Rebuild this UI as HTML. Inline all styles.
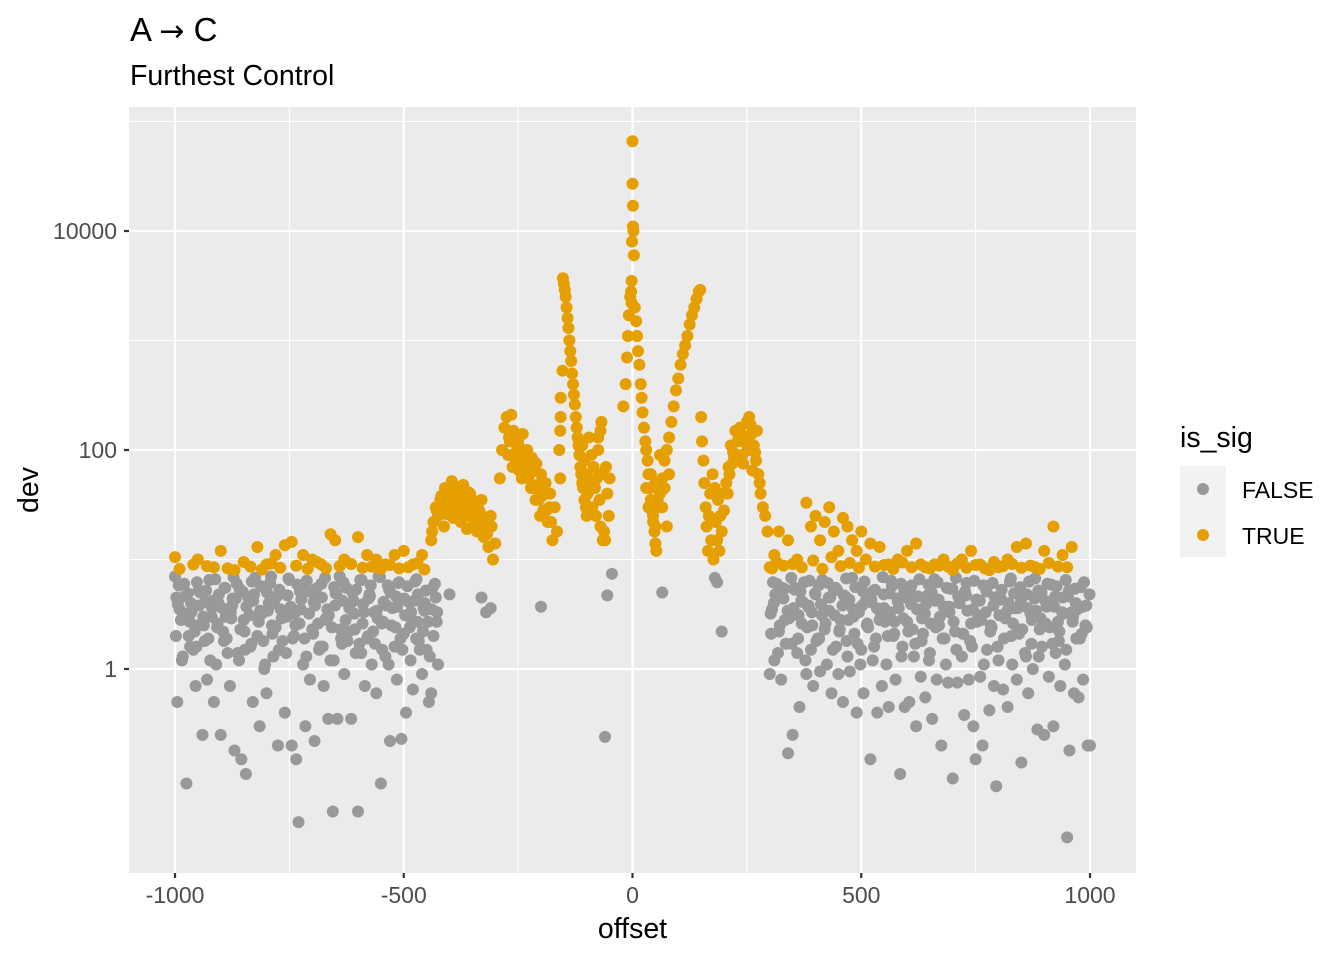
<!DOCTYPE html>
<html><head><meta charset="utf-8">
<style>
body{margin:0;background:#fff;}
svg{display:block;font-family:"Liberation Sans",Arial,sans-serif;}
</style></head>
<body>
<svg id="chart" width="1344" height="960" viewBox="0 0 1344 960" xmlns="http://www.w3.org/2000/svg">
<rect x="0" y="0" width="1344" height="960" fill="#fff"/>
<text x="130" y="41" font-size="33" fill="#000">A <tspan font-family="DejaVu Sans" font-size="30">→</tspan> C</text>
<text x="130" y="85" font-size="28.5" fill="#000">Furthest Control</text>
<rect x="129" y="107" width="1007" height="766" fill="#EBEBEB"/>
<g id="grid"></g>
<g id="pts"></g>
<g id="axes"></g>
<text x="632.5" y="938" font-size="28.5" text-anchor="middle" fill="#000">offset</text>
<text transform="translate(38,490) rotate(-90)" font-size="28.5" text-anchor="middle" fill="#000">dev</text>
<g>
<text x="1180" y="447" font-size="28.5" fill="#000">is_sig</text>
<rect x="1180" y="466" width="46" height="91" fill="#F2F2F2"/>
<circle cx="1203" cy="489" r="6" fill="#999999"/>
<circle cx="1203" cy="535" r="6" fill="#E69F00"/>
<text x="1242" y="498" font-size="23" fill="#000">FALSE</text>
<text x="1242" y="544" font-size="23" fill="#000">TRUE</text>
</g>
</svg>
<script>
const xTicks=[-1000,-500,0,500,1000];
const xTickLabels=["-1000","-500","0","500","1000"];
const xMinor=[-750,-250,250,750];
const yTicks=[1,100,10000];
const yTickLabels=["1","100","10000"];
const yMinor=[0.01,10,1000,100000];

const offFalse=[-1000,-995,-990,-985,-980,-975,-970,-965,-960,-955,
-950,-945,-940,-935,-930,-925,-920,-915,-910,-905,
-900,-895,-890,-885,-880,-875,-870,-865,-860,-855,
-850,-845,-840,-835,-830,-825,-820,-815,-810,-805,
-800,-795,-790,-785,-780,-775,-770,-765,-760,-755,
-750,-745,-740,-735,-730,-725,-720,-715,-710,-705,
-700,-695,-690,-685,-680,-675,-670,-665,-660,-655,
-650,-645,-640,-635,-630,-625,-620,-615,-610,-605,
-600,-595,-590,-585,-580,-575,-570,-565,-560,-555,
-550,-545,-540,-535,-530,-525,-520,-515,-510,-505,
-500,-495,-490,-485,-480,-475,-470,-465,-460,-455,
-450,-445,-440,-435,-430,-425,
-997,-987,-977,-967,-957,-947,-937,-927,-917,-907,
-897,-887,-877,-867,-857,-847,-837,-827,-817,-807,
-797,-787,-777,-767,-757,-747,-737,-727,-717,-707,
-697,-687,-677,-667,-657,-647,-637,-627,-617,-607,
-597,-587,-577,-567,-557,-547,-537,-527,-517,-507,
-497,-487,-477,-467,-457,-447,-437,-427,
-992,-972,-952,-932,-912,-892,-872,-852,-832,-812,
-792,-772,-752,-732,-712,-692,-672,-652,-632,-612,
-592,-572,-552,-532,-512,-492,-472,-452,-432,
-998,-983,-968,-953,-938,-923,-908,-893,-878,-863,
-848,-833,-818,-803,-788,-773,-758,-743,-728,-713,
-698,-683,-668,-653,-638,-623,-608,-593,-578,-563,
-548,-533,-518,-503,-488,-473,-458,-443,-428,
-994,-979,-964,-949,-934,-919,-904,-889,-874,-859,
-844,-829,-814,-799,-784,-769,-754,-739,-724,-709,
-694,-679,-664,-649,-634,-619,-604,-589,-574,-559,
-544,-529,-514,-499,-484,-469,-454,-439,
300,305,310,315,320,325,330,335,340,345,
350,355,360,365,370,375,380,385,390,395,
400,405,410,415,420,425,430,435,440,445,
450,455,460,465,470,475,480,485,490,495,
500,505,510,515,520,525,530,535,540,545,
550,555,560,565,570,575,580,585,590,595,
600,605,610,615,620,625,630,635,640,645,
650,655,660,665,670,675,680,685,690,695,
700,705,710,715,720,725,730,735,740,745,
750,755,760,765,770,775,780,785,790,795,
800,805,810,815,820,825,830,835,840,845,
850,855,860,865,870,875,880,885,890,895,
900,905,910,915,920,925,930,935,940,945,
950,955,960,965,970,975,980,985,990,995,1000,
302,312,322,332,342,352,362,372,382,392,
402,412,422,432,442,452,462,472,482,492,
502,512,522,532,542,552,562,572,582,592,
602,612,622,632,642,652,662,672,682,692,
702,712,722,732,742,752,762,772,782,792,
802,812,822,832,842,852,862,872,882,892,
902,912,922,932,942,952,962,972,982,992,
307,327,347,367,387,407,427,447,467,487,
507,527,547,567,587,607,627,647,667,687,
707,727,747,767,787,807,827,847,867,887,
907,927,947,967,987,
303,318,333,348,363,378,393,408,423,438,
453,468,483,498,513,528,543,558,573,588,
603,618,633,648,663,678,693,708,723,738,
753,768,783,798,813,828,843,858,873,888,
903,918,933,948,963,978,993,
309,324,339,354,369,384,399,414,429,444,
459,474,489,504,519,534,549,564,579,594,
609,624,639,654,669,684,699,714,729,744,
759,774,789,804,819,834,849,864,879,894,
909,924,939,954,969,984,999,
-400,-330,-320,-310,-200,-60,-55,-45,65,180,185,195];
const devFalse=[7,0.5,3.5,1.2,6,0.09,2,4,1.5,0.7,
2.5,5,0.25,1.8,0.8,6.5,3,0.5,1.1,4,
0.25,2.2,5.5,1.4,0.7,3.8,0.18,6,1.2,0.15,
2.8,0.11,4.5,1.6,0.5,6.8,2,0.3,3.2,1,
0.6,4,7,1.3,2.4,0.2,5,1.8,0.4,3,
6.5,0.2,2,0.15,0.04,3.5,1.1,0.3,5.2,0.8,
2.3,0.22,4.5,1.5,6,0.7,2.9,0.35,1.2,0.05,
3.8,0.35,7,1.7,0.9,5.5,2.2,0.35,4.2,1.4,
0.05,6.5,2.6,0.7,1.9,4.8,1.1,3.3,0.6,7,
0.09,2.7,1.3,5.8,0.22,3.6,1.6,0.8,6.2,0.23,
2.1,0.4,4.1,1.2,0.65,6.3,2.7,1.5,0.9,3.4,
1.5,0.5,0.6,2,4.5,1.1,
4.5,2.8,3.2,1.6,2.2,3.8,2.5,1.9,4.2,2.6,
3.6,1.9,2.9,4.4,2.3,1.5,3.1,4.8,2.7,1.8,
3.4,2.1,4.6,2.9,1.4,3.7,2.5,5.1,1.9,3.2,
4.1,2.6,1.6,3.5,2.4,4.9,1.9,2.8,3.9,2.3,
1.7,3.3,4.4,2.2,2.9,1.5,3.8,2.5,4.6,1.9,
3.1,2.4,4.2,1.8,3.6,2.7,5.5,3.3,
5.8,4.9,6.2,5.2,6.6,5.5,6.9,5.1,6.3,5.7,
6.1,5.3,6.7,5.9,6.4,5.4,6.8,5.6,6.2,5.0,
6.5,5.8,6.9,5.3,6.1,5.7,6.6,5.2,6.0,
2.0,1.3,2.7,1.6,3.0,1.2,2.4,1.8,3.3,1.4,
2.2,1.7,2.9,1.1,2.5,1.5,3.1,1.9,2.6,1.3,
2.1,1.6,2.8,1.2,2.3,1.8,3.2,1.4,2.0,1.7,
2.6,1.1,2.4,1.5,3.0,1.9,2.2,1.3,2.7,
3.9,4.6,3.3,5.2,4.1,3.6,4.8,3.0,4.4,5.4,
3.7,4.2,3.4,5.0,4.0,3.5,4.7,3.2,4.3,5.1,
3.8,4.5,3.1,4.9,4.2,3.6,5.3,3.9,4.6,3.4,
4.1,5.0,3.7,4.4,3.3,4.8,4.0,3.5,
0.9,3.5,1.2,6,2.2,0.8,4.4,1.7,0.17,3,
0.25,5.5,1.4,0.45,2.6,6.2,0.9,3.8,1.5,0.7,
4.8,1.9,0.95,6.5,2.3,1.1,3.4,0.6,5.2,1.6,
0.9,2.8,0.5,4.6,1.3,0.95,6.8,2.1,0.4,3.3,
1.5,0.6,4.2,2.4,0.15,1.2,5.3,0.4,2.8,0.7,
3.6,1.1,0.45,6.4,2,0.8,4.1,0.11,1.6,0.45,
2.7,0.5,5.8,1.3,0.3,3.5,0.85,2.1,0.55,4.7,
1.4,0.35,6.6,0.8,2.5,0.2,3.7,1.1,0.75,5.4,
0.1,2.2,0.75,4,1.3,0.38,6.1,0.8,2.6,0.3,
0.15,3.1,0.85,0.2,5.7,1.5,0.42,2.4,0.7,0.085,
1.2,4.3,0.65,2.9,0.45,6.3,1.1,3.6,0.8,2.1,
0.14,4.9,1.3,0.6,3.2,1,6.7,0.28,2.3,1.6,
0.25,3.7,0.85,5.9,0.3,1.4,2.7,0.7,4.5,1.1,
0.029,0.18,3.3,0.6,1.9,0.55,5.6,0.8,2.5,0.2,0.2,
3.2,4.8,2.5,5.4,2.9,3.6,1.9,4.1,2.4,3.3,
1.8,3.9,2.6,4.5,3.1,2.2,4.7,2.8,3.5,1.7,
3.8,2.5,4.3,1.9,3.3,2.7,4.9,2.1,3.6,2.9,
4.4,2.3,3.5,1.8,3.9,2.6,4.2,3,1.9,3.7,
2.7,4.6,2.1,3.4,1.6,4.3,2.8,3.3,2.2,4.5,
3.1,1.9,4,2.6,3.6,2.3,4.8,1.7,3.4,2.9,
4.2,2.4,3.7,1.8,3.2,4.6,2.7,3.5,2.1,3.8,
6.2,5.5,6.8,5.1,6.4,5.8,6.1,5.3,6.7,5.6,
6.3,5.2,6.9,5.7,6.0,5.4,6.6,5.9,6.2,5.5,
6.8,5.1,6.4,5.8,6.1,5.3,6.7,5.6,6.3,5.2,
6.0,5.7,6.5,5.4,6.2,
2.1,1.4,2.8,1.7,3.1,1.2,2.5,1.9,3.4,1.5,
2.3,1.8,3.0,1.1,2.6,1.6,3.2,2.0,2.7,1.3,
2.2,1.7,2.9,1.2,2.4,1.9,3.3,1.5,2.1,1.8,
2.7,1.1,2.5,1.6,3.1,2.0,2.3,1.4,2.8,1.3,
2.6,1.7,2.2,1.5,3.0,1.9,2.4,
4.0,4.7,3.4,5.3,4.2,3.7,4.9,3.1,4.5,5.5,
3.8,4.3,3.5,5.1,4.1,3.6,4.8,3.3,4.4,5.2,
3.9,4.6,3.2,5.0,4.3,3.7,5.4,4.0,4.7,3.5,
4.2,5.1,3.8,4.5,3.4,4.9,4.1,3.6,4.4,5.0,
3.9,4.6,3.3,5.2,4.0,3.7,4.8,
4.8,4.5,3.3,3.6,3.7,0.24,4.7,7.4,5,6.8,6.2,2.2];

const offTrue=[-1000,-950,-930,-900,-870,-850,-820,-800,-780,-760,-745,-720,-700,-680,-660,-650,-630,-600,-580,-560,-540,-520,-500,-480,-460,
-990,-960,-915,-885,-835,-810,-790,-770,-735,-710,-690,-670,-640,-615,-590,-570,-550,-530,-510,-490,-470,-455,
300,310,320,340,360,380,390,400,410,420,430,440,450,460,470,480,490,500,520,540,560,580,600,620,640,660,680,700,720,740,760,780,800,820,840,860,880,900,920,940,960,
305,315,330,350,370,395,415,435,455,475,495,510,530,550,570,590,610,630,650,670,690,710,730,750,770,790,810,830,850,870,890,910,930,950,
-440,-435,-430,-425,-420,-415,-410,-405,-400,-395,-390,-385,-380,-375,-370,-365,-360,-355,-350,-345,-340,-335,-330,-325,-320,-315,-310,-305,-300,
-412,-407,-402,-397,-392,-387,-382,-377,-372,-367,-362,-357,-352,-347,-342,-337,-332,-327,
-438,-428,-418,-408,-398,-388,-378,-368,-358,-348,-338,-328,-318,-308,
-290,-285,-280,-275,-270,-265,-260,-255,-250,-245,-240,-235,-230,-225,-220,-215,-210,-205,-200,-195,-190,-185,-180,-175,-170,-165,-160,-158,
-272,-262,-252,-242,-232,-222,-212,-202,-192,-182,
-268,-258,-248,-238,-228,-218,-208,-198,-188,-178,
-152,-150,-148,-146,-144,-142,-140,-138,-136,-134,-132,-130,-128,-126,-124,-122,-120,-118,-116,-114,-112,-110,-108,-105,-102,-100,
-153,-157,-157,-158,
-110,-105,-100,-98,-95,-92,-90,-88,-85,-82,-80,-78,-75,-72,-70,-68,-65,-62,-60,-75,-70,-68,-58,-55,-52,-50,
-20,-15,-12,-10,-8,-5,-3,-2,0,0,1,1,2,-1,3,-2,
5,8,10,12,15,18,20,22,25,28,30,33,35,38,40,42,45,48,50,52,
30,35,40,45,50,55,60,65,70,75,80,
50,55,60,65,70,75,80,85,90,95,100,105,110,115,120,125,130,135,140,145,148,
150,152,155,157,160,162,165,167,170,172,175,177,180,182,185,187,190,192,195,197,
200,205,210,215,220,225,230,235,240,245,250,255,260,265,270,275,280,285,290,295,
212,222,232,242,252,262,272,
208,218,228,238,248,258,268,278];
const devTrue=[10.5,10,8.7,12,8,9.5,13,9,11,13.5,14.5,11,10,9,17,15,10,16,11,10,9,11,12,9,11,
8.2,9,8.5,8.3,8.6,8.1,9.2,8.4,8.8,8.2,9.5,8.3,8.7,9.1,8.4,8.6,8.2,8.9,8.3,8.5,9.3,8.1,
8.5,11,18,15,10,33,20,25,15,22,30,18,12,24,20,15,12,18,14,13,9,10,12,14,8.5,9,10,8,10,12,9,8,8.5,10,13,14,8.5,12,20,11,13,
8.3,9.5,8.8,9.1,8.5,9.8,8.2,10.5,8.7,9.3,8.4,10,8.6,8.9,8.2,9.4,8.5,9,8.3,8.8,8.6,9.2,8.4,8.9,8.3,9.5,8.7,9.1,8.4,8.8,8.2,9.3,8.6,8.5,
15,22,30,25,35,28,45,38,30,52,27,42,33,22,48,30,25,40,20,32,18,28,35,16,22,13,25,10,14,
20,26,34,42,24,30,38,46,28,36,19,27,33,23,30,21,26,18,
18,28,38,33,44,24,36,29,41,26,34,21,17,20,
55,100,160,200,130,210,150,95,120,80,140,70,100,60,85,45,75,35,60,28,50,22,40,15,30,18,100,55,
90,70,110,55,80,45,35,25,40,30,
120,85,65,100,55,70,48,38,28,22,
3700,3300,2900,2500,2000,1600,1300,1000,800,650,500,400,320,260,200,160,130,110,90,70,60,50,45,35,30,25,
530,300,200,150,
110,80,60,40,130,50,90,30,70,45,25,55,100,35,20,60,15,18,15,130,150,180,70,40,25,55,
250,400,700,1100,1700,2500,2800,2200,66000,27000,17000,11000,10000,8000,6000,3500,
2000,1500,1100,800,600,400,300,220,160,120,100,80,60,45,35,28,22,18,14,12,
45,30,60,25,50,35,90,30,45,20,60,
20,30,40,55,80,100,130,180,250,350,450,600,750,900,1100,1400,1700,2000,2400,2800,2900,
200,120,80,50,30,20,12,25,40,15,60,10,45,22,15,35,12,25,18,40,
28,50,70,110,95,150,120,160,90,130,180,200,140,110,80,60,40,30,25,18,
60,85,130,75,100,65,150,
40,75,90,140,115,170,95,50];

const NS='http://www.w3.org/2000/svg';
const PX0=129,PX1=1136,PY0=107,PY1=873;
function xScale(v){return 632.5+v*0.4575;}
function yScale(v){return 669-109.5*Math.log10(v);}
const grid=document.getElementById('grid');
const axes=document.getElementById('axes');
const pts=document.getElementById('pts');
function line(parent,x1,y1,x2,y2,stroke,w){
  const l=document.createElementNS(NS,'line');
  l.setAttribute('x1',x1);l.setAttribute('y1',y1);l.setAttribute('x2',x2);l.setAttribute('y2',y2);
  l.setAttribute('stroke',stroke);l.setAttribute('stroke-width',w);
  parent.appendChild(l);return l;
}
xMinor.forEach(v=>{const l=line(grid,xScale(v),PY0,xScale(v),PY1,'#fff',1.1);

});
yMinor.forEach(v=>{const y=yScale(v);if(y<PY0||y>PY1)return;const l=line(grid,PX0,y,PX1,y,'#fff',1.1);

});
xTicks.forEach((v,i)=>{const x=xScale(v);
const l=line(grid,x,PY0,x,PY1,'#fff',2.2);


const t=line(axes,x,PY1,x,PY1+5,'#333',2.2);


const tx=document.createElementNS(NS,'text');
tx.setAttribute('x',x);tx.setAttribute('y',903);tx.setAttribute('font-size','23');
tx.setAttribute('text-anchor','middle');tx.setAttribute('fill','#4D4D4D');
tx.textContent=xTickLabels[i];


axes.appendChild(tx);});
yTicks.forEach((v,i)=>{const y=yScale(v);
const l=line(grid,PX0,y,PX1,y,'#fff',2.2);


const t=line(axes,PX0-5,y,PX0,y,'#333',2.2);


const tx=document.createElementNS(NS,'text');
tx.setAttribute('x',117);tx.setAttribute('y',y+8);tx.setAttribute('font-size','23');
tx.setAttribute('text-anchor','end');tx.setAttribute('fill','#4D4D4D');
tx.textContent=yTickLabels[i];


axes.appendChild(tx);});
function drawSeries(offs,devs,color,name){
  for(let i=0;i<offs.length&&i<devs.length;i++){
    const c=document.createElementNS(NS,'circle');
    c.setAttribute('cx',xScale(offs[i]));c.setAttribute('cy',yScale(devs[i]));
    c.setAttribute('r',6);c.setAttribute('fill',color);
    
    
    pts.appendChild(c);
  }
}
drawSeries(offFalse,devFalse,'#999999','point-false');
drawSeries(offTrue,devTrue,'#E69F00','point-true');
</script>
</body></html>
